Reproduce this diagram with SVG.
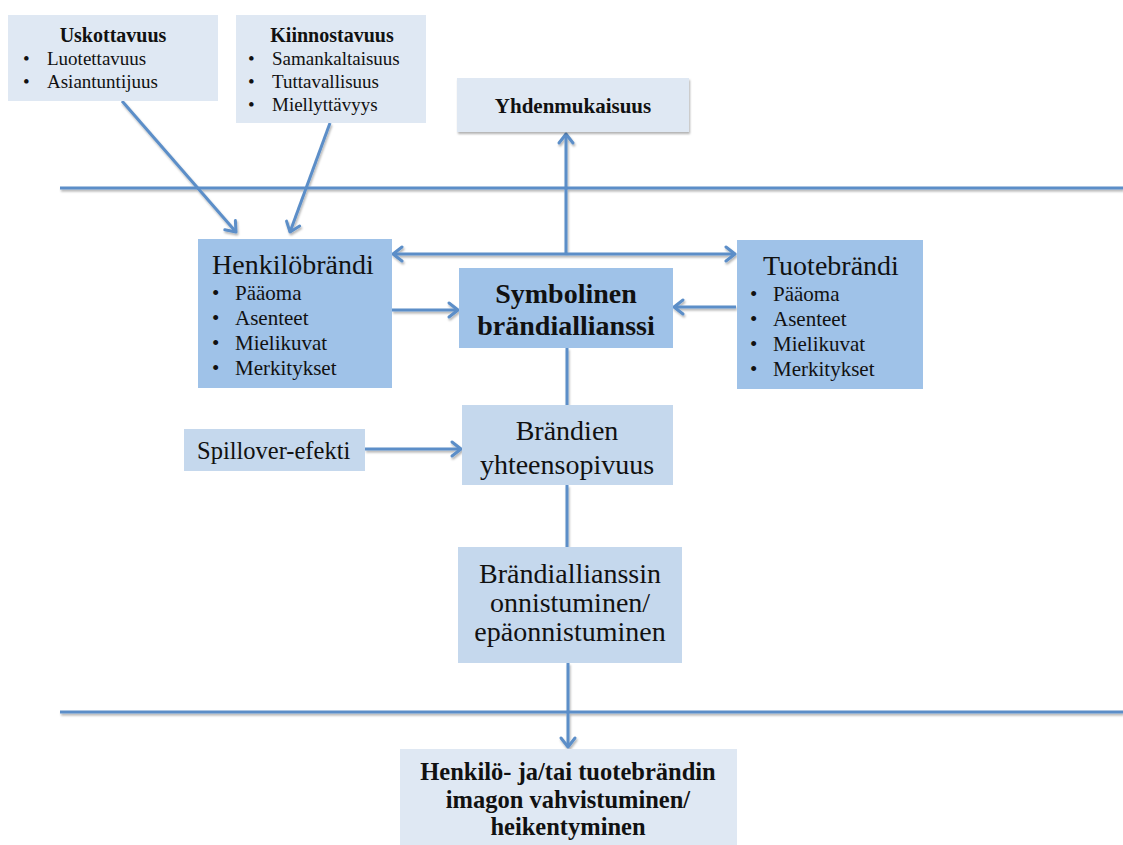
<svg xmlns="http://www.w3.org/2000/svg" width="1123" height="845" viewBox="0 0 1123 845">
  <defs>
    <marker id="arr" markerUnits="userSpaceOnUse" markerWidth="20" markerHeight="20" viewBox="0 0 20 20" refX="17" refY="10" orient="auto">
      <path d="M8,3 L17,10 L8,17" fill="none" stroke="#5b8ec8" stroke-width="3" stroke-linecap="round" stroke-linejoin="round"/>
    </marker>
    <filter id="sh" x="-10%" y="-10%" width="130%" height="140%">
      <feDropShadow dx="1" dy="2" stdDeviation="1.2" flood-color="#000" flood-opacity="0.3"/>
    </filter>
    <style>
      .light { fill: #dfe8f3; }
      .mid { fill: #9fc2e8; }
      .pale { fill: #c5d8ed; }
      .ln { stroke: #5b8ec8; stroke-width: 3; fill: none; }
      text { font-family: "Liberation Serif", "Times New Roman", serif; fill: #111; }
      .b { font-weight: bold; }
      .s19 { font-size: 19px; }
      .s20 { font-size: 20px; }
      .s21 { font-size: 21px; }
      .s24 { font-size: 24.5px; }
      .s28 { font-size: 28px; }
      .c { text-anchor: middle; }
    </style>
  </defs>
  <rect width="1123" height="845" fill="#ffffff"/>

  <!-- connectors -->
  <g id="connectors" filter="url(#sh)">
    <line class="ln" x1="60" y1="188" x2="1123" y2="188"/>
    <line class="ln" x1="60" y1="712" x2="1123" y2="712"/>
    <line class="ln" x1="122" y1="101" x2="236" y2="232" marker-end="url(#arr)"/>
    <line class="ln" x1="330" y1="123" x2="290" y2="232" marker-end="url(#arr)"/>
    <line class="ln" x1="566" y1="254" x2="566" y2="134" marker-end="url(#arr)"/>
    <line class="ln" x1="566" y1="254" x2="393" y2="254" marker-end="url(#arr)"/>
    <line class="ln" x1="566" y1="254" x2="735" y2="254" marker-end="url(#arr)"/>
    <line class="ln" x1="392" y1="310" x2="458" y2="310" marker-end="url(#arr)"/>
    <line class="ln" x1="736" y1="307" x2="674" y2="307" marker-end="url(#arr)"/>
    <line class="ln" x1="365" y1="449" x2="461" y2="449" marker-end="url(#arr)"/>
    <line class="ln" x1="567" y1="348" x2="567" y2="405"/>
    <line class="ln" x1="567" y1="485" x2="567" y2="547"/>
    <line class="ln" x1="568" y1="663" x2="568" y2="747" marker-end="url(#arr)"/>
  </g>

  <g id="uskottavuus">
    <rect class="light" x="8" y="15" width="210" height="86"/>
    <text class="b s20 c" x="113" y="42">Uskottavuus</text>
    <text class="s19" x="23" y="65">•</text>
    <text class="s19" x="47" y="65">Luotettavuus</text>
    <text class="s19" x="23" y="88">•</text>
    <text class="s19" x="47" y="88">Asiantuntijuus</text>
  </g>

  <g id="kiinnostavuus">
    <rect class="light" x="236" y="15" width="190" height="108"/>
    <text class="b s20 c" x="332" y="42">Kiinnostavuus</text>
    <text class="s19" x="248" y="65">•</text>
    <text class="s19" x="272" y="65">Samankaltaisuus</text>
    <text class="s19" x="248" y="88">•</text>
    <text class="s19" x="272" y="88">Tuttavallisuus</text>
    <text class="s19" x="248" y="111">•</text>
    <text class="s19" x="272" y="111">Miellyttävyys</text>
  </g>

  <g id="yhdenmukaisuus">
    <rect class="light" x="457" y="78" width="232" height="54" filter="url(#sh)"/>
    <text class="b s21 c" x="573" y="113">Yhdenmukaisuus</text>
  </g>

  <g id="henkilobrandi">
    <rect class="mid" x="198" y="239" width="194" height="149"/>
    <text class="s28" x="212" y="274">Henkilöbrändi</text>
    <text class="s21" x="212" y="300">•</text>
    <text class="s21" x="235" y="300">Pääoma</text>
    <text class="s21" x="212" y="325">•</text>
    <text class="s21" x="235" y="325">Asenteet</text>
    <text class="s21" x="212" y="350">•</text>
    <text class="s21" x="235" y="350">Mielikuvat</text>
    <text class="s21" x="212" y="375">•</text>
    <text class="s21" x="235" y="375">Merkitykset</text>
  </g>

  <g id="symbolinen">
    <rect class="mid" x="459" y="268" width="214" height="80"/>
    <text class="b s28 c" x="566" y="303">Symbolinen</text>
    <text class="b s28 c" x="566" y="335">brändiallianssi</text>
  </g>

  <g id="tuotebrandi">
    <rect class="mid" x="737" y="240" width="186" height="149"/>
    <text class="s28" x="763" y="275">Tuotebrändi</text>
    <text class="s21" x="750" y="301">•</text>
    <text class="s21" x="773" y="301">Pääoma</text>
    <text class="s21" x="750" y="326">•</text>
    <text class="s21" x="773" y="326">Asenteet</text>
    <text class="s21" x="750" y="351">•</text>
    <text class="s21" x="773" y="351">Mielikuvat</text>
    <text class="s21" x="750" y="376">•</text>
    <text class="s21" x="773" y="376">Merkitykset</text>
  </g>

  <g id="spillover">
    <rect class="pale" x="184" y="429" width="181" height="42"/>
    <text class="s24" x="197" y="459">Spillover-efekti</text>
  </g>

  <g id="yhteensopivuus">
    <rect class="pale" x="462" y="405" width="211" height="80"/>
    <text class="s28 c" x="567" y="440">Brändien</text>
    <text class="s28 c" x="567" y="474">yhteensopivuus</text>
  </g>

  <g id="onnistuminen">
    <rect class="pale" x="458" y="547" width="224" height="116"/>
    <text class="s28 c" x="570" y="583">Brändiallianssin</text>
    <text class="s28 c" x="570" y="612">onnistuminen/</text>
    <text class="s28 c" x="570" y="641">epäonnistuminen</text>
  </g>

  <g id="imago">
    <rect class="light" x="400" y="749" width="337" height="96"/>
    <text class="b s24 c" x="568" y="780">Henkilö- ja/tai tuotebrändin</text>
    <text class="b s24 c" x="568" y="808">imagon vahvistuminen/</text>
    <text class="b s24 c" x="568" y="835">heikentyminen</text>
  </g>
</svg>
